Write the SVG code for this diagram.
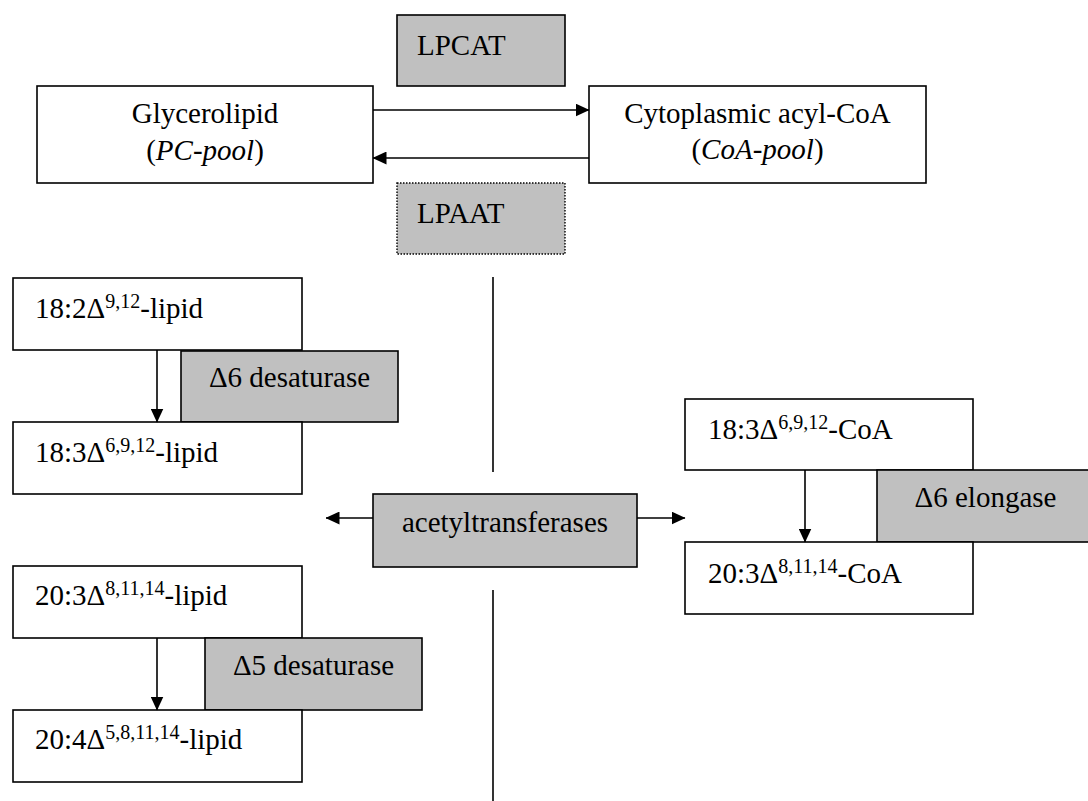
<svg xmlns="http://www.w3.org/2000/svg" width="1088" height="801" viewBox="0 0 1088 801" font-family="'Liberation Serif', 'Times New Roman', 'DejaVu Serif', serif">
  <style>
    text { font-family: 'Liberation Serif', 'Times New Roman', 'DejaVu Serif', serif; font-size: 29px; fill: #000; }
    .sup { font-size: 20px; }
    .box { fill: #fff; stroke: #000; stroke-width: 1.6; }
    .enz { fill: #c0c0c0; stroke: #000; stroke-width: 1.6; }
    .dotted { stroke-dasharray: 1.5 1.5; stroke-width: 1.4; }
    .line { fill: none; stroke: #000; stroke-width: 1.6; }
  </style>
  <defs>
    <marker id="arrow" markerUnits="userSpaceOnUse" markerWidth="14" markerHeight="13" refX="13.5" refY="6.5" orient="auto">
      <path d="M0,0 L14,6.5 L0,13 z" fill="#000"/>
    </marker>
  </defs>

  <rect width="1088" height="801" fill="#fff"/>

  <!-- pool exchange -->
  <g id="lpcat">
    <rect class="enz" x="397" y="15" width="168" height="71"/>
    <text x="417" y="55">LPCAT</text>
  </g>
  <g id="glycerolipid">
    <rect class="box" x="37" y="86" width="336" height="97"/>
    <text x="205" y="123" text-anchor="middle">Glycerolipid</text>
    <text x="205" y="160" text-anchor="middle">(<tspan font-style="italic">PC-pool</tspan>)</text>
  </g>
  <g id="acyl-coa">
    <rect class="box" x="589" y="86" width="337" height="97"/>
    <text x="757.5" y="123" text-anchor="middle">Cytoplasmic acyl-CoA</text>
    <text x="757.5" y="159" text-anchor="middle">(<tspan font-style="italic">CoA-pool</tspan>)</text>
  </g>
  <g id="lpaat">
    <rect class="enz dotted" x="397" y="183" width="168" height="71"/>
    <text x="417" y="223">LPAAT</text>
  </g>

  <!-- lipid-bound desaturation -->
  <g id="lipid-18-2">
    <rect class="box" x="13" y="278" width="289" height="72"/>
    <text x="35" y="318">18:2Δ<tspan class="sup" dy="-10">9,12</tspan><tspan dy="10">-lipid</tspan></text>
  </g>
  <g id="d6-desaturase">
    <rect class="enz" x="181" y="351" width="217" height="71"/>
    <text x="289.5" y="387" text-anchor="middle">Δ6 desaturase</text>
  </g>
  <g id="lipid-18-3">
    <rect class="box" x="13" y="422" width="289" height="72"/>
    <text x="35" y="462">18:3Δ<tspan class="sup" dy="-10">6,9,12</tspan><tspan dy="10">-lipid</tspan></text>
  </g>

  <g id="lipid-20-3">
    <rect class="box" x="13" y="566" width="289" height="72"/>
    <text x="35" y="605">20:3Δ<tspan class="sup" dy="-10">8,11,14</tspan><tspan dy="10">-lipid</tspan></text>
  </g>
  <g id="d5-desaturase">
    <rect class="enz" x="205" y="638" width="217" height="72"/>
    <text x="313.5" y="675" text-anchor="middle">Δ5 desaturase</text>
  </g>
  <g id="lipid-20-4">
    <rect class="box" x="13" y="710" width="289" height="72"/>
    <text x="35" y="749">20:4Δ<tspan class="sup" dy="-10">5,8,11,14</tspan><tspan dy="10">-lipid</tspan></text>
  </g>

  <!-- acyl transfer between compartments -->
  <g id="acetyltransferases">
    <rect class="enz" x="373" y="494" width="264" height="73"/>
    <text x="505" y="532" text-anchor="middle">acetyltransferases</text>
  </g>

  <!-- CoA-bound elongation -->
  <g id="coa-18-3">
    <rect class="box" x="685" y="399" width="288" height="71"/>
    <text x="708" y="439">18:3Δ<tspan class="sup" dy="-10">6,9,12</tspan><tspan dy="10">-CoA</tspan></text>
  </g>
  <g id="d6-elongase">
    <rect class="enz" x="877" y="470" width="217" height="72"/>
    <text x="985.5" y="507" text-anchor="middle">Δ6 elongase</text>
  </g>
  <g id="coa-20-3">
    <rect class="box" x="685" y="542" width="288" height="72"/>
    <text x="708" y="583">20:3Δ<tspan class="sup" dy="-10">8,11,14</tspan><tspan dy="10">-CoA</tspan></text>
  </g>

  <!-- compartment divider -->
  <g id="divider">
    <line class="line" x1="493" y1="277" x2="493" y2="472"/>
    <line class="line" x1="493" y1="590" x2="493" y2="801"/>
  </g>

  <g id="connectors">
    <line class="line" x1="373" y1="110" x2="589" y2="110" marker-end="url(#arrow)"/>
    <line class="line" x1="589" y1="158" x2="373" y2="158" marker-end="url(#arrow)"/>
    <line class="line" x1="157" y1="350" x2="157" y2="422" marker-end="url(#arrow)"/>
    <line class="line" x1="157" y1="638" x2="157" y2="710" marker-end="url(#arrow)"/>
    <line class="line" x1="805" y1="470" x2="805" y2="542" marker-end="url(#arrow)"/>
    <line class="line" x1="373" y1="518" x2="326" y2="518" marker-end="url(#arrow)"/>
    <line class="line" x1="637" y1="518" x2="685" y2="518" marker-end="url(#arrow)"/>
  </g>
</svg>
